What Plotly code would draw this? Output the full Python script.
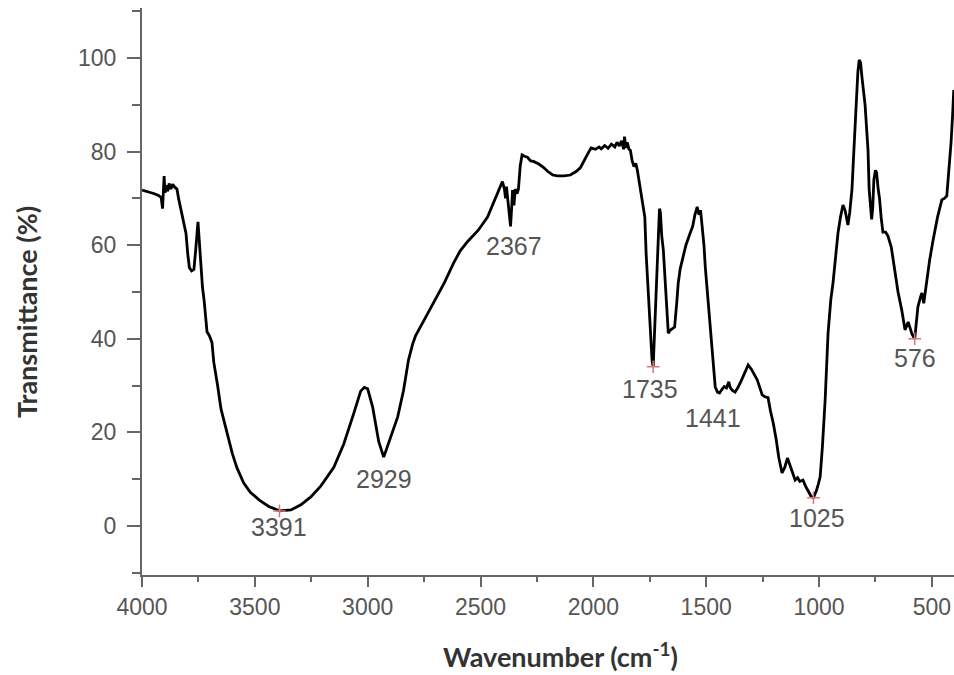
import plotly.graph_objects as go

wavenumber = [4000, 3985, 3965, 3945, 3925, 3915, 3909, 3905, 3902, 3898, 3892, 3886, 3880, 3872, 3864, 3855,
              3845, 3838, 3828, 3815, 3805, 3797, 3790, 3780, 3770, 3762, 3757, 3752, 3747, 3740, 3732, 3725,
              3718, 3712, 3700, 3690, 3682, 3672, 3665, 3650, 3635, 3620, 3600, 3580, 3550, 3520, 3480, 3440,
              3391, 3340, 3296, 3252, 3208, 3150, 3106, 3062, 3031, 3015, 3000, 2978, 2951, 2929, 2898, 2867,
              2841, 2819, 2800, 2788, 2750, 2708, 2660, 2619, 2590, 2557, 2510, 2469, 2440, 2415, 2403, 2394,
              2389, 2385, 2380, 2374, 2367, 2362, 2358, 2352, 2346, 2338, 2332, 2324, 2316, 2305, 2292, 2278,
              2265, 2240, 2220, 2203, 2180, 2159, 2130, 2102, 2075, 2057, 2040, 2025, 2010, 1990, 1975, 1965,
              1950, 1935, 1920, 1905, 1895, 1885, 1875, 1866, 1862, 1856, 1850, 1842, 1836, 1828, 1820, 1812,
              1805, 1795, 1782, 1772, 1766, 1757, 1748, 1740, 1735, 1730, 1726, 1718, 1712, 1707, 1703, 1697,
              1690, 1682, 1675, 1668, 1660, 1650, 1640, 1630, 1624, 1615, 1602, 1590, 1571, 1560, 1550, 1540,
              1532, 1525, 1518, 1510, 1504, 1495, 1482, 1470, 1460, 1450, 1441, 1430, 1420, 1410, 1400, 1394,
              1385, 1372, 1360, 1345, 1330, 1314, 1300, 1285, 1274, 1262, 1252, 1240, 1226, 1215, 1203, 1190,
              1178, 1164, 1152, 1140, 1130, 1118, 1106, 1095, 1085, 1071, 1060, 1045, 1035, 1025, 1012, 1003,
              995, 985, 973, 960, 948, 938, 928, 916, 905, 894, 885, 878, 872, 864, 858, 854,
              848, 841, 835, 828, 822, 816, 810, 803, 796, 788, 783, 778, 774, 767, 762, 757,
              750, 745, 738, 732, 725, 717, 705, 695, 680, 665, 650, 633, 619, 605, 597, 588,
              576, 568, 562, 550, 544, 536, 525, 510, 495, 475, 456, 445, 434, 428, 420, 415,
              408, 403]
transmittance = [71.8, 71.6, 71.3, 71.0, 70.6, 70.2, 67.8, 72.0, 74.8, 71.2, 72.8, 71.5, 73.2, 72.0, 73.0, 72.4,
                 72.0, 70.0, 67.5, 64.5, 62.5, 58.0, 55.2, 54.5, 54.8, 59.0, 63.0, 65.0, 61.5, 56.0, 51.0, 48.3,
                 43.5, 41.5, 40.5, 39.2, 35.0, 31.5, 30.0, 25.0, 22.0, 19.5, 15.5, 12.5, 9.2, 7.2, 5.5, 4.2,
                 3.2, 3.4, 4.5, 6.2, 8.5, 12.5, 17.5, 24.0, 28.8, 29.6, 29.3, 25.4, 18.0, 14.7, 19.0, 23.3,
                 29.0, 35.5, 39.0, 40.6, 44.0, 47.8, 52.0, 56.2, 58.8, 60.8, 63.2, 66.0, 69.5, 72.5, 73.6, 72.0,
                 70.0, 72.5, 70.0, 66.0, 64.0, 68.0, 71.8, 68.5, 72.0, 71.0, 72.0, 77.0, 79.3, 79.0, 78.8, 78.0,
                 77.9, 77.3, 76.6, 75.8, 75.0, 74.8, 74.8, 75.0, 75.8, 76.6, 78.0, 79.5, 80.8, 80.5, 81.0, 80.6,
                 81.3, 80.7, 81.6, 81.0, 82.0, 81.2, 82.3, 80.5, 83.2, 80.8, 82.0, 80.5, 80.3, 78.0, 76.8, 77.5,
                 76.0, 73.0, 69.5, 66.0, 58.0, 50.0, 40.0, 35.5, 34.0, 40.0, 48.3, 58.0, 64.0, 67.8, 67.0, 62.0,
                 59.0, 52.0, 45.0, 41.2, 41.8, 42.2, 42.5, 48.0, 51.9, 55.0, 58.0, 60.0, 62.6, 64.0, 66.5, 68.2,
                 66.5, 67.5, 64.0, 60.0, 55.3, 50.0, 41.2, 34.0, 29.7, 28.6, 28.4, 29.2, 29.8, 29.5, 30.8, 29.6,
                 29.0, 28.6, 29.5, 31.0, 32.5, 34.4, 33.5, 32.0, 31.2, 29.5, 28.0, 27.6, 27.4, 24.5, 22.0, 18.5,
                 14.5, 11.3, 12.5, 14.5, 13.0, 11.5, 9.8, 10.3, 9.5, 9.8, 8.5, 7.2, 6.3, 6.0, 7.5, 9.0,
                 10.5, 17.0, 26.9, 41.2, 48.3, 52.0, 57.0, 62.6, 66.0, 68.6, 67.5, 66.0, 64.3, 67.0, 70.0, 72.0,
                 78.0, 85.3, 92.0, 97.0, 99.6, 99.0, 96.0, 92.5, 90.0, 84.0, 80.3, 72.0, 69.7, 65.5, 68.0, 74.0,
                 76.0, 75.5, 72.0, 70.0, 66.0, 62.8, 62.8, 62.0, 59.6, 55.0, 50.0, 46.0, 41.9, 43.6, 42.5, 41.0,
                 40.0, 44.0, 46.8, 49.0, 49.8, 47.6, 52.0, 56.8, 61.0, 66.0, 69.7, 70.0, 70.5, 74.0, 79.7, 82.0,
                 88.0, 93.2]

peak_labels = ["3391", "2929", "2367", "1735", "1441", "1025", "576"]
label_x = [3391, 2929, 2352, 1748, 1469, 1009, 575]
label_y = [-0.2, 10.0, 59.8, 29.3, 23.1, 1.7, 35.9]

marked_x = [3391, 1735, 1025, 576]
marked_y = [3.2, 34.0, 6.0, 40.0]

x_title = "Wavenumber (cm<sup>-1</sup>)"
y_title = "Transmittance (%)"

fig = go.Figure()
fig.add_trace(go.Scatter(x=wavenumber, y=transmittance, mode="lines",
                         line=dict(color="black", width=2.8), showlegend=False))
fig.add_trace(go.Scatter(x=marked_x, y=marked_y, mode="markers",
                         marker=dict(symbol="cross-thin", size=9, line=dict(color="#d47a7a", width=1.5)),
                         showlegend=False))

for t, x, y in zip(peak_labels, label_x, label_y):
    fig.add_annotation(x=x, y=y, text=t, showarrow=False,
                       font=dict(family="Arial, Liberation Sans", size=25, color="#555555"))

title_font = dict(family="Lato, Open Sans", size=27, color="#333333")
fig.add_annotation(xref="paper", yref="paper", x=0.5148, y=-0.141, xanchor="center", yanchor="middle",
                   text="<b>" + x_title + "</b>", showarrow=False, font=title_font)
fig.add_annotation(xref="paper", yref="paper", x=-0.1429, y=0.4638, xanchor="center", yanchor="middle",
                   text="<b>" + y_title + "</b>", showarrow=False, textangle=-90, font=title_font)

axis_common = dict(showgrid=False, zeroline=False, showline=True, linecolor="#666666", linewidth=2,
                   ticks="outside", tickcolor="#666666", tickwidth=2,
                   tickfont=dict(family="Arial, Liberation Sans", size=23, color="#555555"))

fig.update_xaxes(range=[4000, 402], dtick=500, tick0=0, ticklen=10, ticklabelstandoff=0,
                 minor=dict(dtick=250, ticks="outside", ticklen=5, tickcolor="#666666", tickwidth=2),
                 **axis_common)
fig.update_yaxes(range=[-10.5, 110.7], dtick=20, tick0=0, ticklen=13, ticklabelstandoff=6,
                 minor=dict(dtick=10, ticks="outside", ticklen=8, tickcolor="#666666", tickwidth=2),
                 **axis_common)

fig.update_layout(width=954, height=675, margin=dict(l=142, r=0, t=8, b=100),
                  plot_bgcolor="white", paper_bgcolor="white")

fig.write_html("out.html")
